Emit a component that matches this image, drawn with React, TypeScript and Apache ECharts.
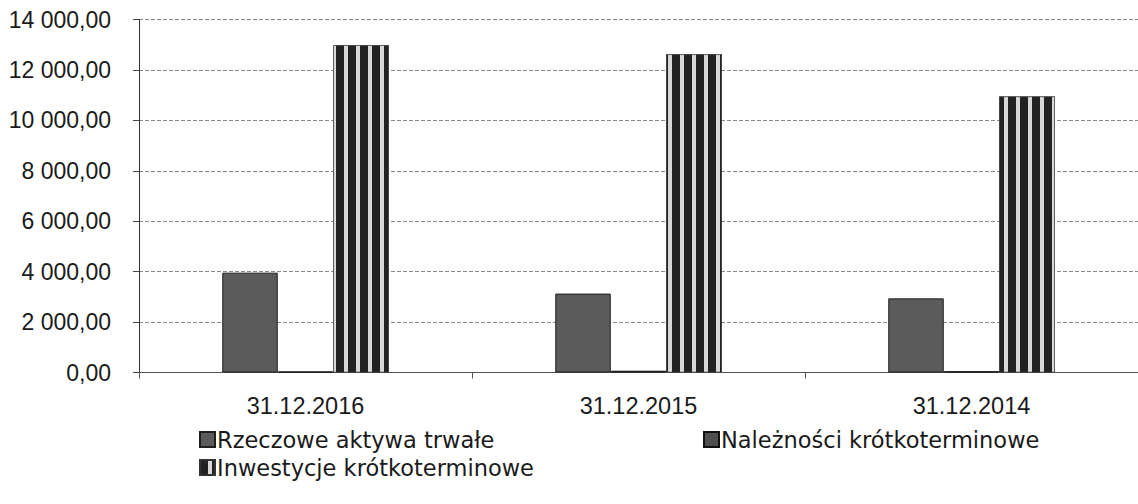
import React, { useEffect, useRef } from "react";
import * as echarts from "echarts";

const categories = ["31.12.2016", "31.12.2015", "31.12.2014"];
const seriesNames = [
  "Rzeczowe aktywa trwałe",
  "Należności krótkoterminowe",
  "Inwestycje krótkoterminowe",
];
const rzeczowe = [3960, 3130, 2940];
const naleznosci = [40, 70, 50];
const inwestycje = [12980, 12620, 10950];
const yTicks = { min: 0, max: 14000, interval: 2000 };

function fmt(v: number): string {
  const s = Math.round(v).toString().replace(/\B(?=(\d{3})+(?!\d))/g, " ");
  return s + ",00";
}

export default function App() {
  const ref = useRef<HTMLDivElement>(null);
  useEffect(() => {
    if (!ref.current) return;
    const chart = echarts.init(ref.current, undefined, { renderer: "svg" });
    const legendText = {
      fontFamily: "DejaVu Sans",
      fontSize: 22.5,
      color: "#1a1a1a",
    };
    chart.setOption({
      animation: false,
      backgroundColor: "#ffffff",
      grid: { left: 139, top: 19.5, width: 1005, height: 353 },
      legend: [
        {
          data: [seriesNames[0]],
          left: 199,
          top: 428,
          icon: "rect",
          itemWidth: 15,
          itemHeight: 15,
          padding: 0,
          textStyle: { ...legendText, padding: [0, 0, 0, -3] },
        },
        {
          data: [seriesNames[1]],
          left: 703,
          top: 428,
          icon: "rect",
          itemWidth: 15,
          itemHeight: 15,
          padding: 0,
          textStyle: { ...legendText, padding: [0, 0, 0, -3] },
        },
        {
          data: [seriesNames[2]],
          left: 199,
          top: 456,
          icon: "rect",
          itemWidth: 15,
          itemHeight: 15,
          padding: 0,
          textStyle: { ...legendText, padding: [0, 0, 0, -3] },
        },
      ],
      xAxis: {
        type: "category",
        data: categories,
        axisLine: { show: true, lineStyle: { color: "#555", width: 1 } },
        axisTick: { show: true, length: 6, lineStyle: { color: "#555" } },
        axisLabel: {
          fontFamily: "Liberation Sans",
          fontSize: 23.5,
          color: "#1a1a1a",
          margin: 21,
        },
        splitLine: { show: false },
      },
      yAxis: {
        type: "value",
        min: yTicks.min,
        max: yTicks.max,
        interval: yTicks.interval,
        axisLine: { show: true, lineStyle: { color: "#333", width: 1 } },
        axisTick: { show: true, length: 6, lineStyle: { color: "#444" } },
        axisLabel: {
          fontFamily: "Liberation Sans",
          fontSize: 23,
          color: "#1a1a1a",
          margin: 28,
          formatter: (v: number) => fmt(v),
        },
        splitLine: {
          show: true,
          lineStyle: { color: "#8a8a8a", width: 1, type: [4, 2] },
        },
      },
      series: [
        {
          name: seriesNames[0],
          type: "bar",
          data: rzeczowe,
          barGap: "0%",
          barCategoryGap: "50%",
          itemStyle: { color: "#5b5b5b", borderColor: "#1f1f1f", borderWidth: 1 },
        },
        {
          name: seriesNames[1],
          type: "bar",
          data: naleznosci,
          itemStyle: { color: "#4f4f4f", borderColor: "#111", borderWidth: 1 },
        },
        {
          name: seriesNames[2],
          type: "bar",
          data: inwestycje,
          itemStyle: {
            color: "#d8d8d8",
            borderColor: "#333",
            borderWidth: 0.5,
            decal: {
              symbol: "rect",
              symbolSize: 1,
              color: "#222222",
              dashArrayX: [8, 4],
              dashArrayY: [4, 0],
              rotation: 0,
            },
          },
        },
      ],
    });
    return () => chart.dispose();
  }, []);
  return (
    <div
      ref={ref}
      style={{ position: "fixed", left: 0, top: 0, width: 1138, height: 504 }}
    />
  );
}
